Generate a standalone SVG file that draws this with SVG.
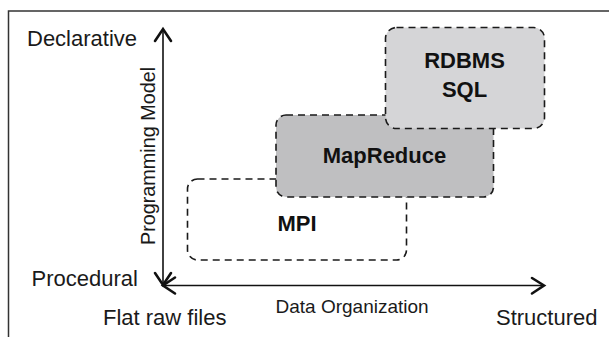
<svg xmlns="http://www.w3.org/2000/svg" width="609" height="337" viewBox="0 0 609 337">
  <style>
    .lbl { font-family: "Liberation Sans", Arial, sans-serif; font-size: 22px; fill: #1a1a1a; }
    .axl { font-family: "Liberation Sans", Arial, sans-serif; font-size: 19px; fill: #1a1a1a; }
    .bold { font-family: "Liberation Sans", Arial, sans-serif; font-size: 22px; font-weight: bold; fill: #111; text-anchor: middle; }
    .box { stroke: #1a1a1a; stroke-width: 1.6; stroke-dasharray: 7 5; }
    .axis { stroke: #111; stroke-width: 1.6; fill: none; }
    .head { stroke: #111; stroke-width: 2.6; fill: none; stroke-linecap: round; stroke-linejoin: miter; }
  </style>
  <rect width="609" height="337" fill="#ffffff"/>
  <path d="M8.5 337 V11 H609" fill="none" stroke="#333" stroke-width="1.5"/>

  <g id="mpi">
    <rect class="box" x="187.5" y="179" width="219" height="81" rx="10" fill="#ffffff"/>
    <text class="bold" x="297" y="231">MPI</text>
  </g>
  <g id="mapreduce">
    <rect class="box" x="276" y="115" width="217.5" height="82" rx="10" fill="#bfbfc1"/>
    <text class="bold" x="384.5" y="163">MapReduce</text>
  </g>
  <g id="rdbms">
    <rect class="box" x="385.5" y="27.5" width="159" height="101" rx="11" fill="#d5d5d7"/>
    <text class="bold" x="464.5" y="68">RDBMS</text>
    <text class="bold" x="464.5" y="97">SQL</text>
  </g>

  <g id="connectors">
    <line class="axis" x1="163" y1="29" x2="163" y2="285"/>
    <line class="axis" x1="163" y1="285.5" x2="544" y2="285.5"/>
    <polyline class="head" points="155,41 163,29 171,41"/>
    <polyline class="head" points="155,273 163,285 171,273"/>
    <polyline class="head" points="175,277.5 163,285.5 175,293.5"/>
    <polyline class="head" points="532,278 544,285.5 532,293.5"/>
  </g>

  <g id="labels">
    <text class="lbl" x="27" y="45.5">Declarative</text>
    <text class="lbl" x="31.5" y="285.5">Procedural</text>
    <text class="lbl" x="103" y="325">Flat raw files</text>
    <text class="lbl" x="496" y="325">Structured</text>
    <text class="axl" x="275.5" y="313">Data Organization</text>
    <text class="axl" transform="translate(155,156) rotate(-90)" text-anchor="middle" style="font-size:19.8px">Programming Model</text>
  </g>
</svg>
